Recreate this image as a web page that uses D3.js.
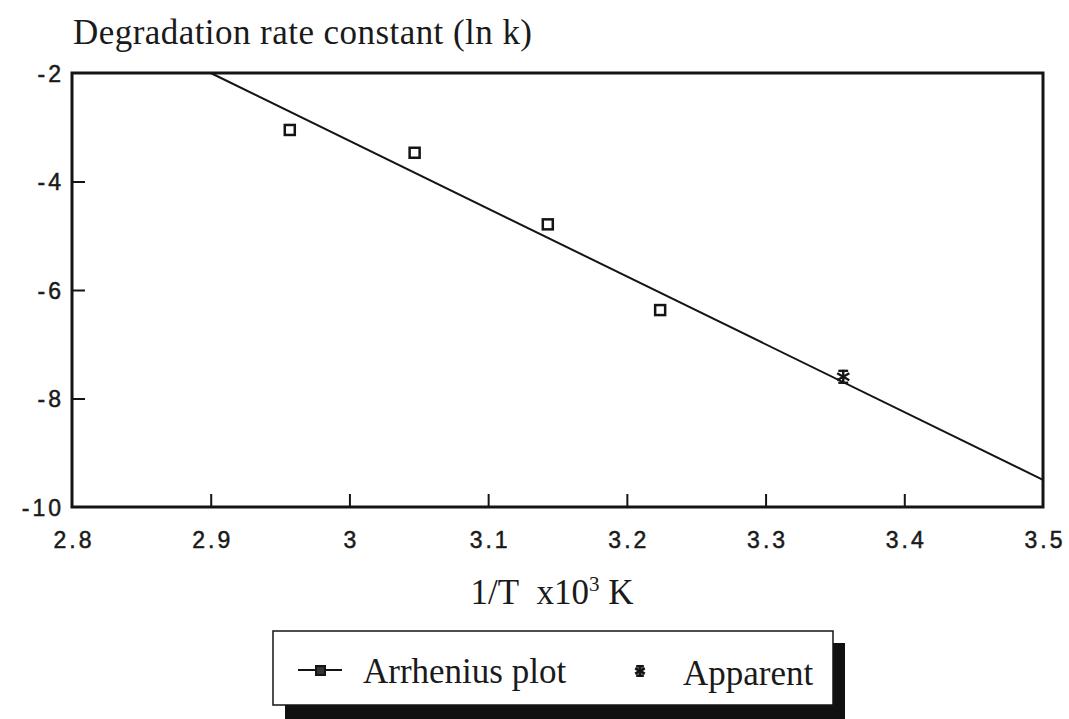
<!DOCTYPE html>
<html>
<head>
<meta charset="utf-8">
<script src="https://cdn.jsdelivr.net/npm/d3@7"></script>
<style>
  html, body { margin: 0; padding: 0; background: #fff; }
  svg { display: block; }
  .serif { font-family: "Liberation Serif", "DejaVu Serif", serif; fill: #1a1a1a; }
  .tick-label { font-family: "Liberation Sans", Arial, sans-serif; fill: #1a1a1a; stroke: #1a1a1a; stroke-width: 0.5; }
</style>
</head>
<body>
<svg id="chart" width="1069" height="719"></svg>
<script>
// Arrhenius data: inverse temperature (1/T x10^3 K) vs ln k
const arrheniusX = [2.957, 3.047, 3.143, 3.224];
const arrheniusY = [-3.05, -3.47, -4.79, -6.37];
const apparentX = [3.356];
const apparentY = [-7.60];
// fitted Arrhenius line, endpoints
const fitX = [2.9, 3.5];
const fitY = [-2.0, -9.5];
// axis ticks
const xTicks = [2.8, 2.9, 3.0, 3.1, 3.2, 3.3, 3.4, 3.5];
const yTicks = [-2, -4, -6, -8, -10];
const xDomain = [2.8, 3.5];
const yDomain = [-10, -2];

const svg = d3.select("#chart");
const plot = { left: 72, right: 1043, top: 73, bottom: 507 };

const x = d3.scaleLinear().domain(xDomain).range([plot.left, plot.right]);
const y = d3.scaleLinear().domain(yDomain).range([plot.bottom, plot.top]);

const ink = "#141414";
// plain hyphen for negatives, as printed
const fmt = d => String(+d.toFixed(1)).replace("-", "-");

// y-axis title (above the plot)
svg.append("text")
  .attr("class", "serif")
  .attr("x", 73).attr("y", 44)
  .attr("font-size", 35)
  .attr("textLength", 459)
  .attr("lengthAdjust", "spacing")
  .text("Degradation rate constant (ln k)");

// fitted line
const line = d3.line().x(d => x(d[0])).y(d => y(d[1]));
svg.append("path")
  .datum(d3.zip(fitX, fitY))
  .attr("d", line)
  .attr("fill", "none")
  .attr("stroke", ink)
  .attr("stroke-width", 2);

// inner ticks
const bottomAxis = d3.axisBottom(x).tickValues(xTicks).tickSize(-13).tickFormat(fmt);
const leftAxis = d3.axisLeft(y).tickValues(yTicks).tickSize(-13).tickFormat(fmt).tickPadding(8);

const gx = svg.append("g").attr("transform", `translate(0,${plot.bottom})`).call(bottomAxis);
const gy = svg.append("g").attr("transform", `translate(${plot.left},0)`).call(leftAxis);
[gx, gy].forEach(g => {
  g.select(".domain").remove();
  g.selectAll(".tick line").attr("stroke", ink).attr("stroke-width", 2);
  g.selectAll(".tick text")
    .attr("class", "tick-label")
    .attr("font-size", 23)
    .attr("letter-spacing", 3)
    .attr("fill", ink);
});
gx.selectAll(".tick line").filter(d => d === 2.8 || d === 3.5).remove();
gy.selectAll(".tick line").filter(d => d === -2 || d === -10).remove();
gx.selectAll(".tick text").attr("dy", "0.35em").attr("y", 33).attr("dx", 1.5);
gy.selectAll(".tick text").attr("dy", "0.35em");

// frame
svg.append("rect")
  .attr("x", plot.left).attr("y", plot.top)
  .attr("width", plot.right - plot.left).attr("height", plot.bottom - plot.top)
  .attr("fill", "none").attr("stroke", ink).attr("stroke-width", 3);

// Arrhenius points (open squares)
const sq = 10;
svg.append("g").selectAll("rect")
  .data(d3.zip(arrheniusX, arrheniusY))
  .join("rect")
  .attr("x", d => x(d[0]) - sq / 2)
  .attr("y", d => y(d[1]) - sq / 2)
  .attr("width", sq).attr("height", sq)
  .attr("fill", "#fff").attr("stroke", ink).attr("stroke-width", 2.5);

// asterisk marker
function asterisk(g, cx, cy, r, sw) {
  const a = g.append("g").attr("transform", `translate(${cx},${cy})`);
  [0, 60, 120].forEach(deg => {
    const t = deg * Math.PI / 180;
    a.append("line")
      .attr("x1", -r * Math.sin(t)).attr("y1", -r * Math.cos(t))
      .attr("x2", r * Math.sin(t)).attr("y2", r * Math.cos(t))
      .attr("stroke", ink).attr("stroke-width", sw);
  });
  a.append("line").attr("x1", -r * 0.7).attr("x2", r * 0.7).attr("y1", -r * 0.85).attr("y2", -r * 0.85)
    .attr("stroke", ink).attr("stroke-width", sw);
  a.append("line").attr("x1", -r * 0.7).attr("x2", r * 0.7).attr("y1", r * 0.85).attr("y2", r * 0.85)
    .attr("stroke", ink).attr("stroke-width", sw);
}
d3.zip(apparentX, apparentY).forEach(d => asterisk(svg, x(d[0]), y(d[1]), 7, 2.4));

// x-axis title
const xt = svg.append("text").attr("class", "serif")
  .attr("x", 552).attr("y", 604).attr("text-anchor", "middle").attr("font-size", 35);
xt.append("tspan").text("1/T\u00a0\u00a0x10");
xt.append("tspan").attr("font-size", 21).attr("dy", -13).text("3");
xt.append("tspan").attr("dy", 13).text(" K");

// legend with drop shadow
const lg = { x: 273, y: 631, w: 560, h: 74 };
svg.append("rect").attr("x", lg.x + 12).attr("y", lg.y + 12)
  .attr("width", lg.w).attr("height", lg.h + 20).attr("fill", "#111");
svg.append("rect").attr("x", lg.x).attr("y", lg.y)
  .attr("width", lg.w).attr("height", lg.h)
  .attr("fill", "#fff").attr("stroke", ink).attr("stroke-width", 1.5);

svg.append("line").attr("x1", 298).attr("x2", 342).attr("y1", 670).attr("y2", 670)
  .attr("stroke", ink).attr("stroke-width", 2);
svg.append("rect").attr("x", 316).attr("y", 666).attr("width", 9).attr("height", 9)
  .attr("fill", "#333").attr("stroke", ink).attr("stroke-width", 2);
svg.append("text").attr("class", "serif").attr("x", 363).attr("y", 683)
  .attr("font-size", 35).text("Arrhenius plot");

asterisk(svg, 640, 671, 5.5, 2.6);
svg.append("text").attr("class", "serif").attr("x", 683).attr("y", 685)
  .attr("font-size", 35).text("Apparent");
</script>
</body>
</html>
